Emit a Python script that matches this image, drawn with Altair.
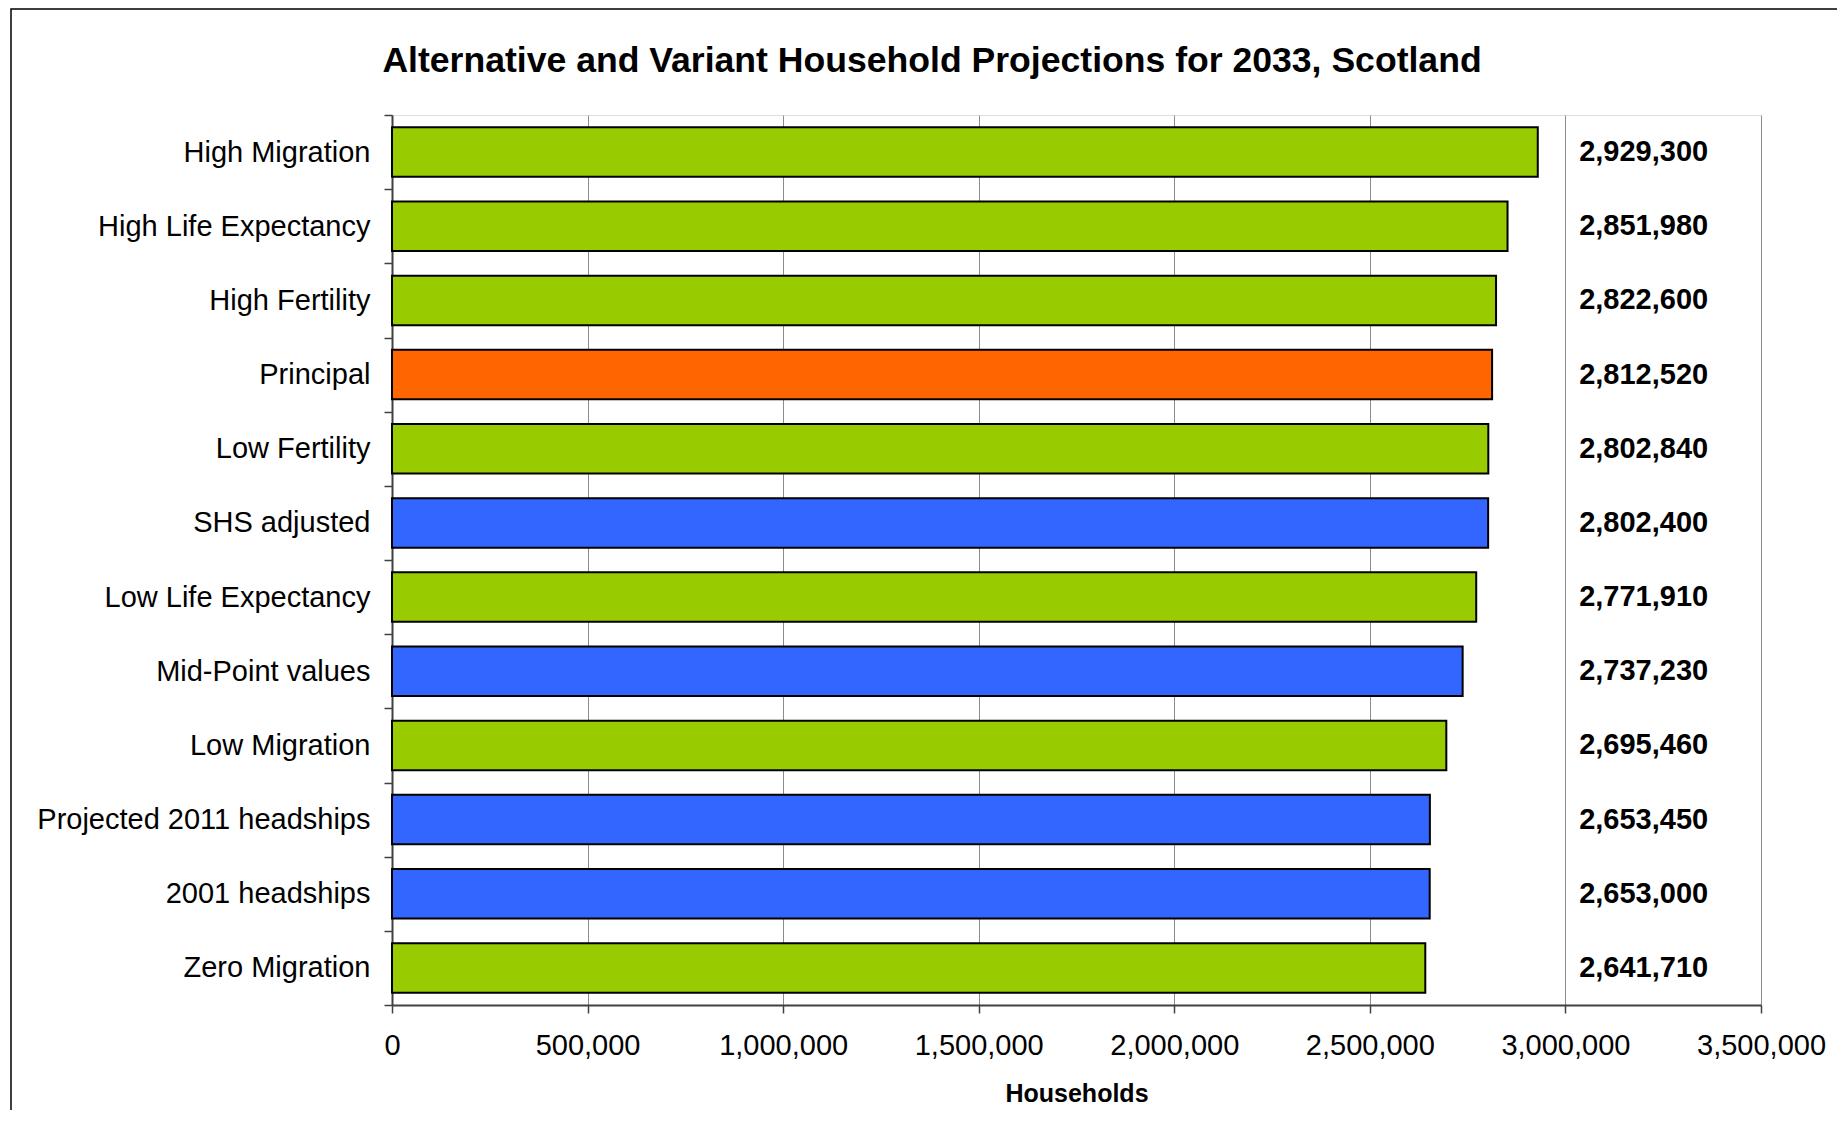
import altair as alt
import pandas as pd

categories = [
    "High Migration", "High Life Expectancy", "High Fertility", "Principal",
    "Low Fertility", "SHS adjusted", "Low Life Expectancy", "Mid-Point values",
    "Low Migration", "Projected 2011 headships", "2001 headships", "Zero Migration",
]
households = [2929300, 2851980, 2822600, 2812520, 2802840, 2802400,
              2771910, 2737230, 2695460, 2653450, 2653000, 2641710]
groups = ["Alternative", "Alternative", "Alternative", "Principal",
          "Alternative", "Variant", "Alternative", "Variant",
          "Alternative", "Variant", "Variant", "Alternative"]
group_names = ["Alternative", "Principal", "Variant"]
group_colors = ["#99CC00", "#FF6600", "#3366FF"]
x_ticks = [0, 500000, 1000000, 1500000, 2000000, 2500000, 3000000, 3500000]
label_column = 3200000
title_text = "Alternative and Variant Household Projections for 2033, Scotland"

FONT = "Liberation Sans"

df = pd.DataFrame({"category": categories, "households": households, "group": groups})
df["label"] = [f"{v:,}" for v in households]
df["label_x"] = label_column

x_scale = alt.Scale(domain=[0, 3500000], nice=False)
x_axis = alt.Axis(title="Households", values=x_ticks, format=",d",
                  tickSize=8, labelPadding=18, labelFont=FONT, labelFontSize=29,
                  labelColor="black", labelFlush=False, labelOverlap=False,
                  domainColor="#404040", domainWidth=2,
                  tickColor="#404040", tickWidth=1.5, grid=True,
                  gridColor="#8C8C8C", gridWidth=1,
                  titleFont=FONT, titleFontSize=25, titleFontWeight="bold",
                  titleColor="black", titlePadding=21)

y_enc = alt.Y("category:N", sort=categories,
              scale=alt.Scale(paddingInner=0, paddingOuter=0),
              axis=alt.Axis(title=None, tickBand="extent", tickSize=8, labelPadding=14,
                            labelFont=FONT, labelFontSize=29, labelColor="black",
                            domainColor="#404040", domainWidth=2, tickColor="#404040",
                            tickWidth=1.5, labelLimit=600))

bars = alt.Chart(df).mark_bar(height={"band": 0.667}, stroke="black", strokeWidth=2).encode(
    x=alt.X("households:Q", scale=x_scale, axis=x_axis),
    y=y_enc,
    color=alt.Color("group:N", scale=alt.Scale(domain=group_names, range=group_colors),
                    legend=None),
)

labels = alt.Chart(df).mark_text(font=FONT, fontSize=29, fontWeight="bold",
                                 color="black", align="center", baseline="middle").encode(
    x=alt.X("label_x:Q", scale=x_scale, axis=x_axis),
    y=y_enc,
    text="label:N",
)

frame = alt.Chart(pd.DataFrame({"f": [0]})).mark_rect(
    filled=False, stroke="black", strokeWidth=1.5).encode(
    x=alt.value(-381), x2=alt.value(2200), y=alt.value(-106), y2=alt.value(1600))

title = alt.Chart(pd.DataFrame({"t": [title_text]})).mark_text(
    font=FONT, fontSize=35.6, fontWeight="bold", color="black",
    align="center", baseline="alphabetic").encode(
    x=alt.value(540), y=alt.value(-43), text="t:N")

chart = alt.layer(frame, bars, labels, title).properties(
    width=1369, height=890,
    autosize=alt.AutoSizeParams(type="none"),
    padding={"left": 384, "top": 107, "right": 76, "bottom": 105},
).configure_view(stroke="#8C8C8C", strokeWidth=2).configure(background="white")

chart.save("out.html", embed_options={"renderer": "svg", "actions": False})
